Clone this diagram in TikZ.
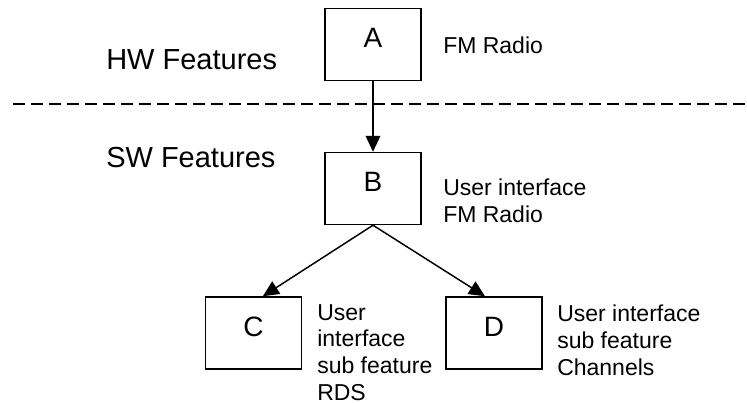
\documentclass[tikz,border=0pt]{standalone}
\usepackage{fontspec}
\setmainfont{Liberation Sans}
\usetikzlibrary{arrows.meta}
\begin{document}
\begin{tikzpicture}[x=0.75pt,y=-0.75pt,
  featbox/.style={draw, line width=1.1pt, minimum width=72pt, minimum height=54pt,
    inner sep=0pt, font=\fontsize{21}{25}\selectfont, text height=15pt, text depth=10.5pt},
  note/.style={anchor=base west, align=left, inner sep=0pt, font=\fontsize{17.25}{20}\selectfont},
  layer/.style={anchor=base west, inner sep=0pt, font=\fontsize{21.75}{26}\selectfont},
  link/.style={line width=1.1pt, -{Triangle[length=12pt,width=11pt]}},
  divider/.style={line width=1pt, dash pattern=on 9pt off 4.5pt}]
\useasboundingbox (0,0) rectangle (747,403);

% layer titles and the dividing line
\node[layer] (hw) at (106,70) {HW Features};
\node[layer] (sw) at (106,167) {SW Features};
\coordinate (divL) at (13,104);
\coordinate (divR) at (747,104);
\draw[divider] (divL) -- (divR);

% feature boxes
\node[featbox] (A) at (373,44.5) {A};
\node[featbox] (B) at (373,188.5) {B};
\node[featbox] (C) at (253.5,333) {C};
\node[featbox] (D) at (494,333) {D};

% descriptions (placed at the baseline of their last line)
\node[note] (tA) at (443,54) {FM Radio};
\node[note] (tB) at (443,222) {User interface\\FM Radio};
\node[note] (tC) at (317,400) {User\\interface\\sub feature\\RDS};
\node[note] (tD) at (557,375) {User interface\\sub feature\\Channels};

% dependencies
\draw[link] (A.south) -- (B.north);
\draw[link] (B.south) -- ([xshift=7pt]C.north);
\draw[link] (B.south) -- ([xshift=-6.75pt]D.north);
\end{tikzpicture}
\end{document}
